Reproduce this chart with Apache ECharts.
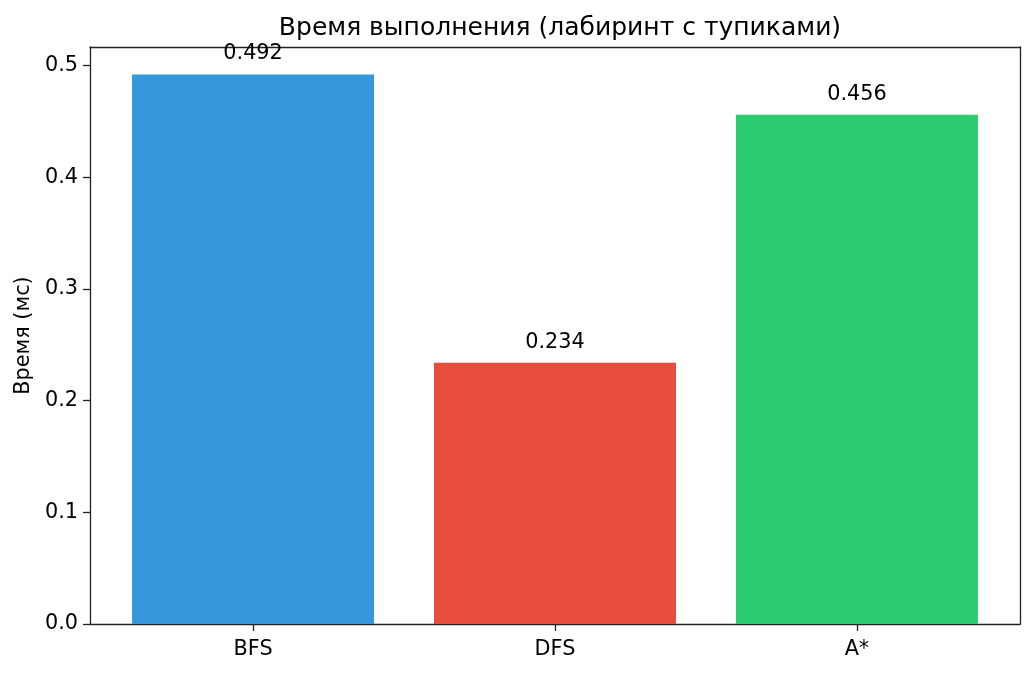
<!DOCTYPE html>
<html>
<head>
<meta charset="utf-8">
<script src="https://cdn.jsdelivr.net/npm/echarts@6/dist/echarts.min.js"></script>
<style>
    html, body { margin: 0; padding: 0; background: #fff; }
    #main { width: 1036px; height: 674px; }
</style>
</head>
<body>
<div id="main"></div>
<script>
    // данные графика
    var categories = ['BFS', 'DFS', 'A*'];
    var times = [0.492, 0.234, 0.456];
    var colors = ['#3498db', '#e74c3c', '#2ecc71'];
    var yTicks = [0, 0.1, 0.2, 0.3, 0.4, 0.5];
    var xTicks = [0, 1, 2];

    var font = 'DejaVu Sans';
    var fs = 20.8;
    var myChart = echarts.init(document.getElementById('main'));

    var seriesData = times.map(function (v, i) {
        return { value: [i, v], itemStyle: { color: colors[i] } };
    });

    var axisLine = { show: true, onZero: false, lineStyle: { color: '#222', width: 1.3 } };
    var tickStyle = { color: '#222', width: 1.3 };

    var option = {
        animation: false,
        backgroundColor: '#fff',
        title: {
            text: 'Время выполнения (лабиринт с тупиками)',
            left: 555,
            top: 11,
            textAlign: 'center',
            textStyle: { fontFamily: font, fontSize: 25, fontWeight: 'normal', color: '#000' }
        },
        grid: { left: 90, right: 16, top: 47, bottom: 50, outerBoundsMode: 'none', containLabel: false },
        xAxis: [{
            type: 'value',
            min: -0.54,
            max: 2.54,
            splitLine: { show: false },
            axisLine: axisLine,
            axisTick: { show: true, customValues: xTicks, length: 7, lineStyle: tickStyle },
            axisLabel: {
                customValues: xTicks,
                formatter: function (v) { return categories[Math.round(v)]; },
                fontFamily: font, fontSize: fs, color: '#000', margin: 15
            }
        }, {
            type: 'value',
            position: 'top',
            min: -0.54,
            max: 2.54,
            splitLine: { show: false },
            axisLine: axisLine,
            axisTick: { show: false },
            axisLabel: { show: false }
        }],
        yAxis: [{
            type: 'value',
            min: 0,
            max: 0.5166,
            name: 'Время (мс)',
            nameLocation: 'middle',
            nameGap: 55,
            nameTextStyle: { fontFamily: font, fontSize: fs, color: '#000' },
            splitLine: { show: false },
            axisLine: axisLine,
            axisTick: { show: true, customValues: yTicks, length: 7, lineStyle: tickStyle },
            axisLabel: {
                customValues: yTicks,
                formatter: function (v) { return v.toFixed(1); },
                fontFamily: font, fontSize: fs, color: '#000', margin: 12
            }
        }, {
            type: 'value',
            position: 'right',
            min: 0,
            max: 0.5166,
            splitLine: { show: false },
            axisLine: axisLine,
            axisTick: { show: false },
            axisLabel: { show: false }
        }],
        series: [{
            type: 'bar',
            barWidth: 242,
            data: seriesData,
            label: {
                show: true,
                position: 'top',
                distance: 10,
                formatter: function (p) { return p.value[1].toFixed(3); },
                fontFamily: font, fontSize: fs, color: '#000'
            }
        }]
    };

    myChart.setOption(option);
</script>
</body>
</html>
